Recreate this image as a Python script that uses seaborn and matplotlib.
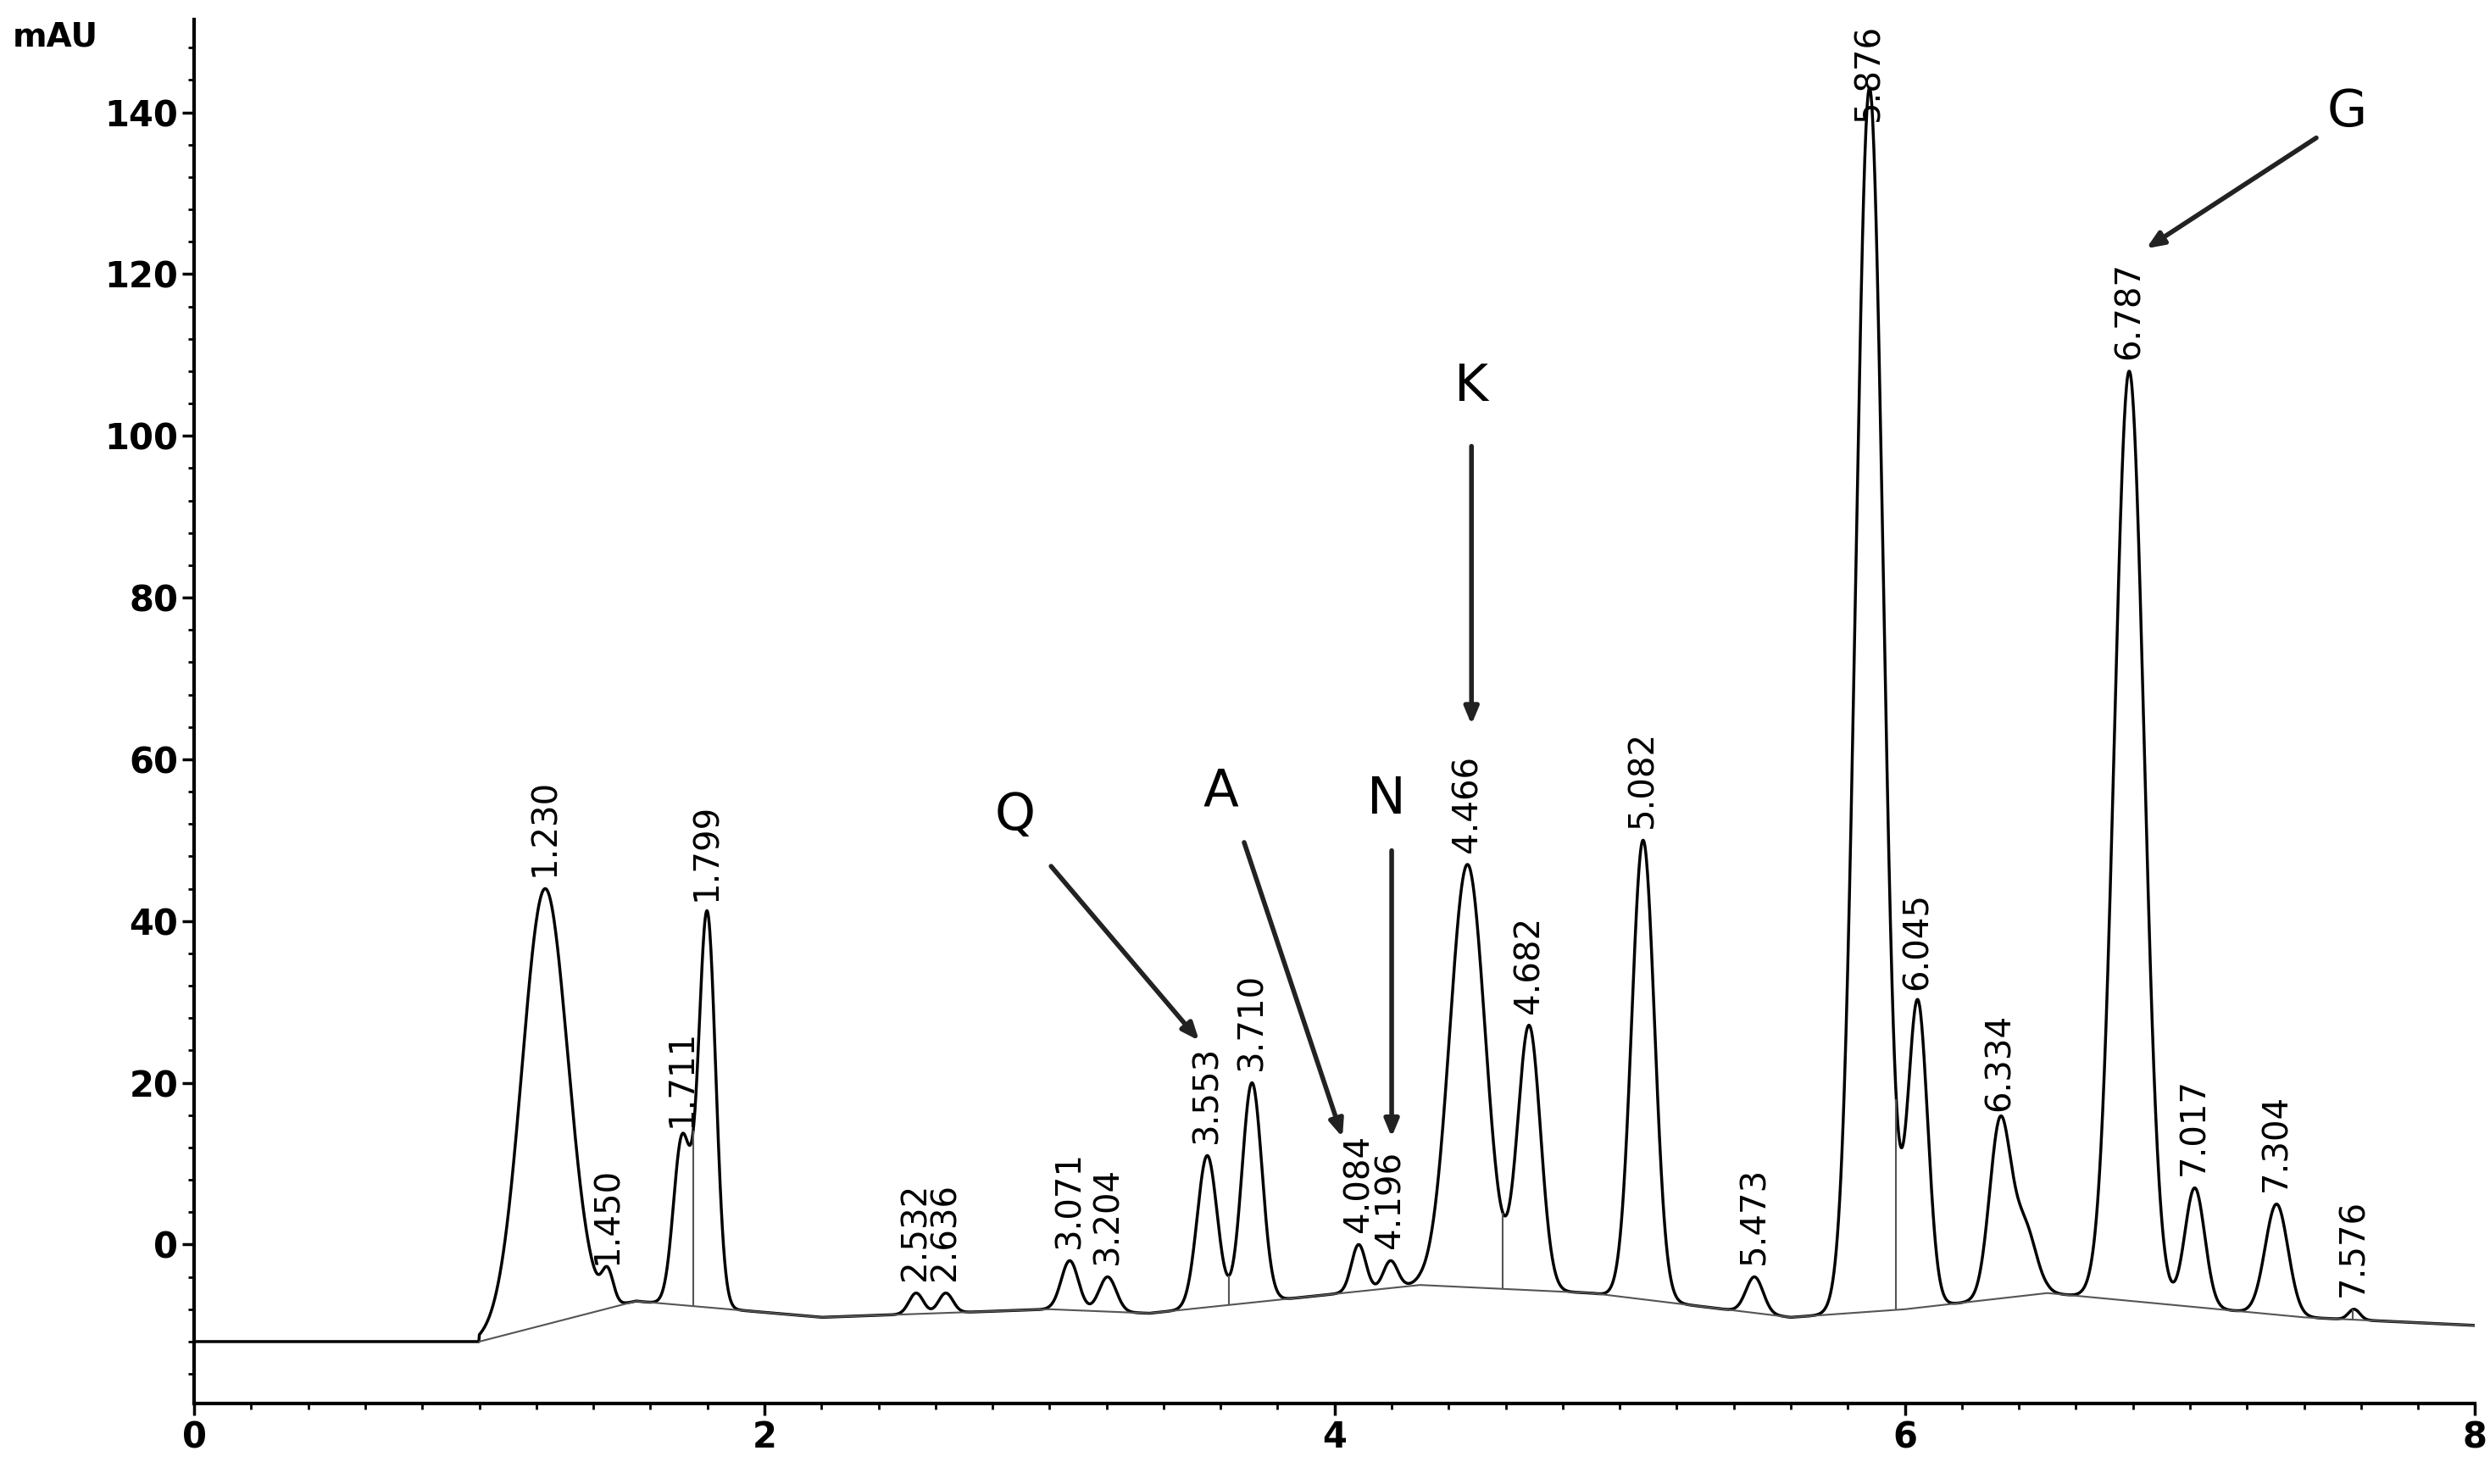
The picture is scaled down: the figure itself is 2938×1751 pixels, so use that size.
import numpy as np
import pandas as pd
import matplotlib
matplotlib.use("Agg")
import matplotlib.pyplot as plt
import seaborn as sns

# peak table: retention time, apex (mAU), width (sigma, min)
peak_rt = [1.230, 1.450, 1.711, 1.799, 2.532, 2.636, 3.071, 3.204, 3.553, 3.710,
           4.084, 4.196, 4.466, 4.682, 5.082, 5.473, 5.876, 6.045, 6.334, 6.420,
           6.787, 7.017, 7.304, 7.576]
peak_apex = [44, -4, 13, 41, -6, -6, -2, -4, 11, 20,
             0, -2, 47, 27, 50, -4, 143, 30, 15, 2,
             108, 7, 5, -8]
peak_sigma = [0.08, 0.02, 0.03, 0.03, 0.025, 0.025, 0.03, 0.03, 0.035, 0.035,
              0.025, 0.025, 0.062, 0.04, 0.04, 0.03, 0.048, 0.035, 0.037, 0.04,
              0.052, 0.035, 0.04, 0.02]
peak_labels = ["1.230", "1.450", "1.711", "1.799", "2.532", "2.636", "3.071", "3.204",
               "3.553", "3.710", "4.084", "4.196", "4.466", "4.682", "5.082", "5.473",
               "5.876", "6.045", "6.334", None, "6.787", "7.017", "7.304", "7.576"]

# drawn baseline segments (integration baseline)
base_t = [0.0, 1.0, 1.55, 2.2, 3.0, 3.35, 4.3, 4.9, 5.6, 6.0, 6.5, 7.4, 8.0]
base_y = [-12, -12, -7, -9, -8, -8.5, -5, -6, -9, -8, -6, -9, -10]

# split lines under shoulders
drop_rt = [1.75, 3.63, 4.59, 5.97, 7.57]

# annotated compounds: letter, text pos, arrow tip
ann_letter = ["Q", "A", "N", "K", "G"]
ann_text = [(2.88, 53), (3.6, 56), (4.18, 55), (4.48, 106), (7.55, 140)]
ann_tail = [(3.0, 47), (3.68, 50), (4.2, 49), (4.48, 99), (7.45, 137)]
ann_tip = [(3.53, 25), (4.03, 13), (4.2, 13), (4.48, 64), (6.84, 123)]

t = np.linspace(0, 8, 4000)
base = np.interp(t, base_t, base_y)
sig = base.copy()
start = t >= 1.0
for rt, ap, s in zip(peak_rt, peak_apex, peak_sigma):
    amp = ap - np.interp(rt, base_t, base_y)
    sig += start * amp * np.exp(-0.5 * ((t - rt) / s) ** 2)
df = pd.DataFrame({"time": t, "mAU": sig})

fig = plt.figure(figsize=(29.38, 17.51), dpi=100)
ax = fig.add_axes([0.078, 0.054, 0.916, 0.933])
sns.lineplot(data=df, x="time", y="mAU", ax=ax, color="black", linewidth=2.5)
ax.plot(base_t[1:], base_y[1:], color="#555555", linewidth=1.5)
for d in drop_rt:
    ax.vlines(d, np.interp(d, base_t, base_y), np.interp(d, t, sig), color="#555555", lw=1.5)

for rt, ap, lab in zip(peak_rt, peak_apex, peak_labels):
    if not lab:
        continue
    if ap > 130:
        ax.text(rt, 151, lab, rotation=90, ha="center", va="top", fontsize=29)
    else:
        ax.text(rt, ap + 1.5, lab, rotation=90, ha="center", va="bottom", fontsize=29)

for let, tp, tl, tip in zip(ann_letter, ann_text, ann_tail, ann_tip):
    ax.text(tp[0], tp[1], let, fontsize=44, ha="center", va="center")
    ax.annotate("", xy=tip, xytext=tl,
                arrowprops=dict(arrowstyle="-|>,head_width=0.5,head_length=1.2",
                                color="#222222", lw=4))

ax.set_xlim(0, 8.0)
ax.set_ylim(-19.7, 151.5)
ax.set_xticks([0, 2, 4, 6, 8])
ax.set_xticklabels(["0", "2", "4", "6", "8"])
ax.set_xticks(np.arange(0, 8.01, 0.2), minor=True)
ax.set_yticks(np.arange(0, 141, 20))
ax.set_yticks(np.arange(-16, 150, 4), minor=True)
ax.tick_params(axis="both", which="major", labelsize=30, length=10, width=2.5)
ax.tick_params(axis="both", which="minor", length=5, width=2)
for lbl in ax.get_xticklabels() + ax.get_yticklabels():
    lbl.set_fontweight("bold")
ax.set_xlabel("")
ax.set_ylabel("")
for sp in ["top", "right"]:
    ax.spines[sp].set_visible(False)
for sp in ["left", "bottom"]:
    ax.spines[sp].set_linewidth(3)
fig.text(0.005, 0.975, "mAU", fontsize=28, fontweight="bold", va="center")
fig.savefig("out.png", dpi=100, facecolor="white")
